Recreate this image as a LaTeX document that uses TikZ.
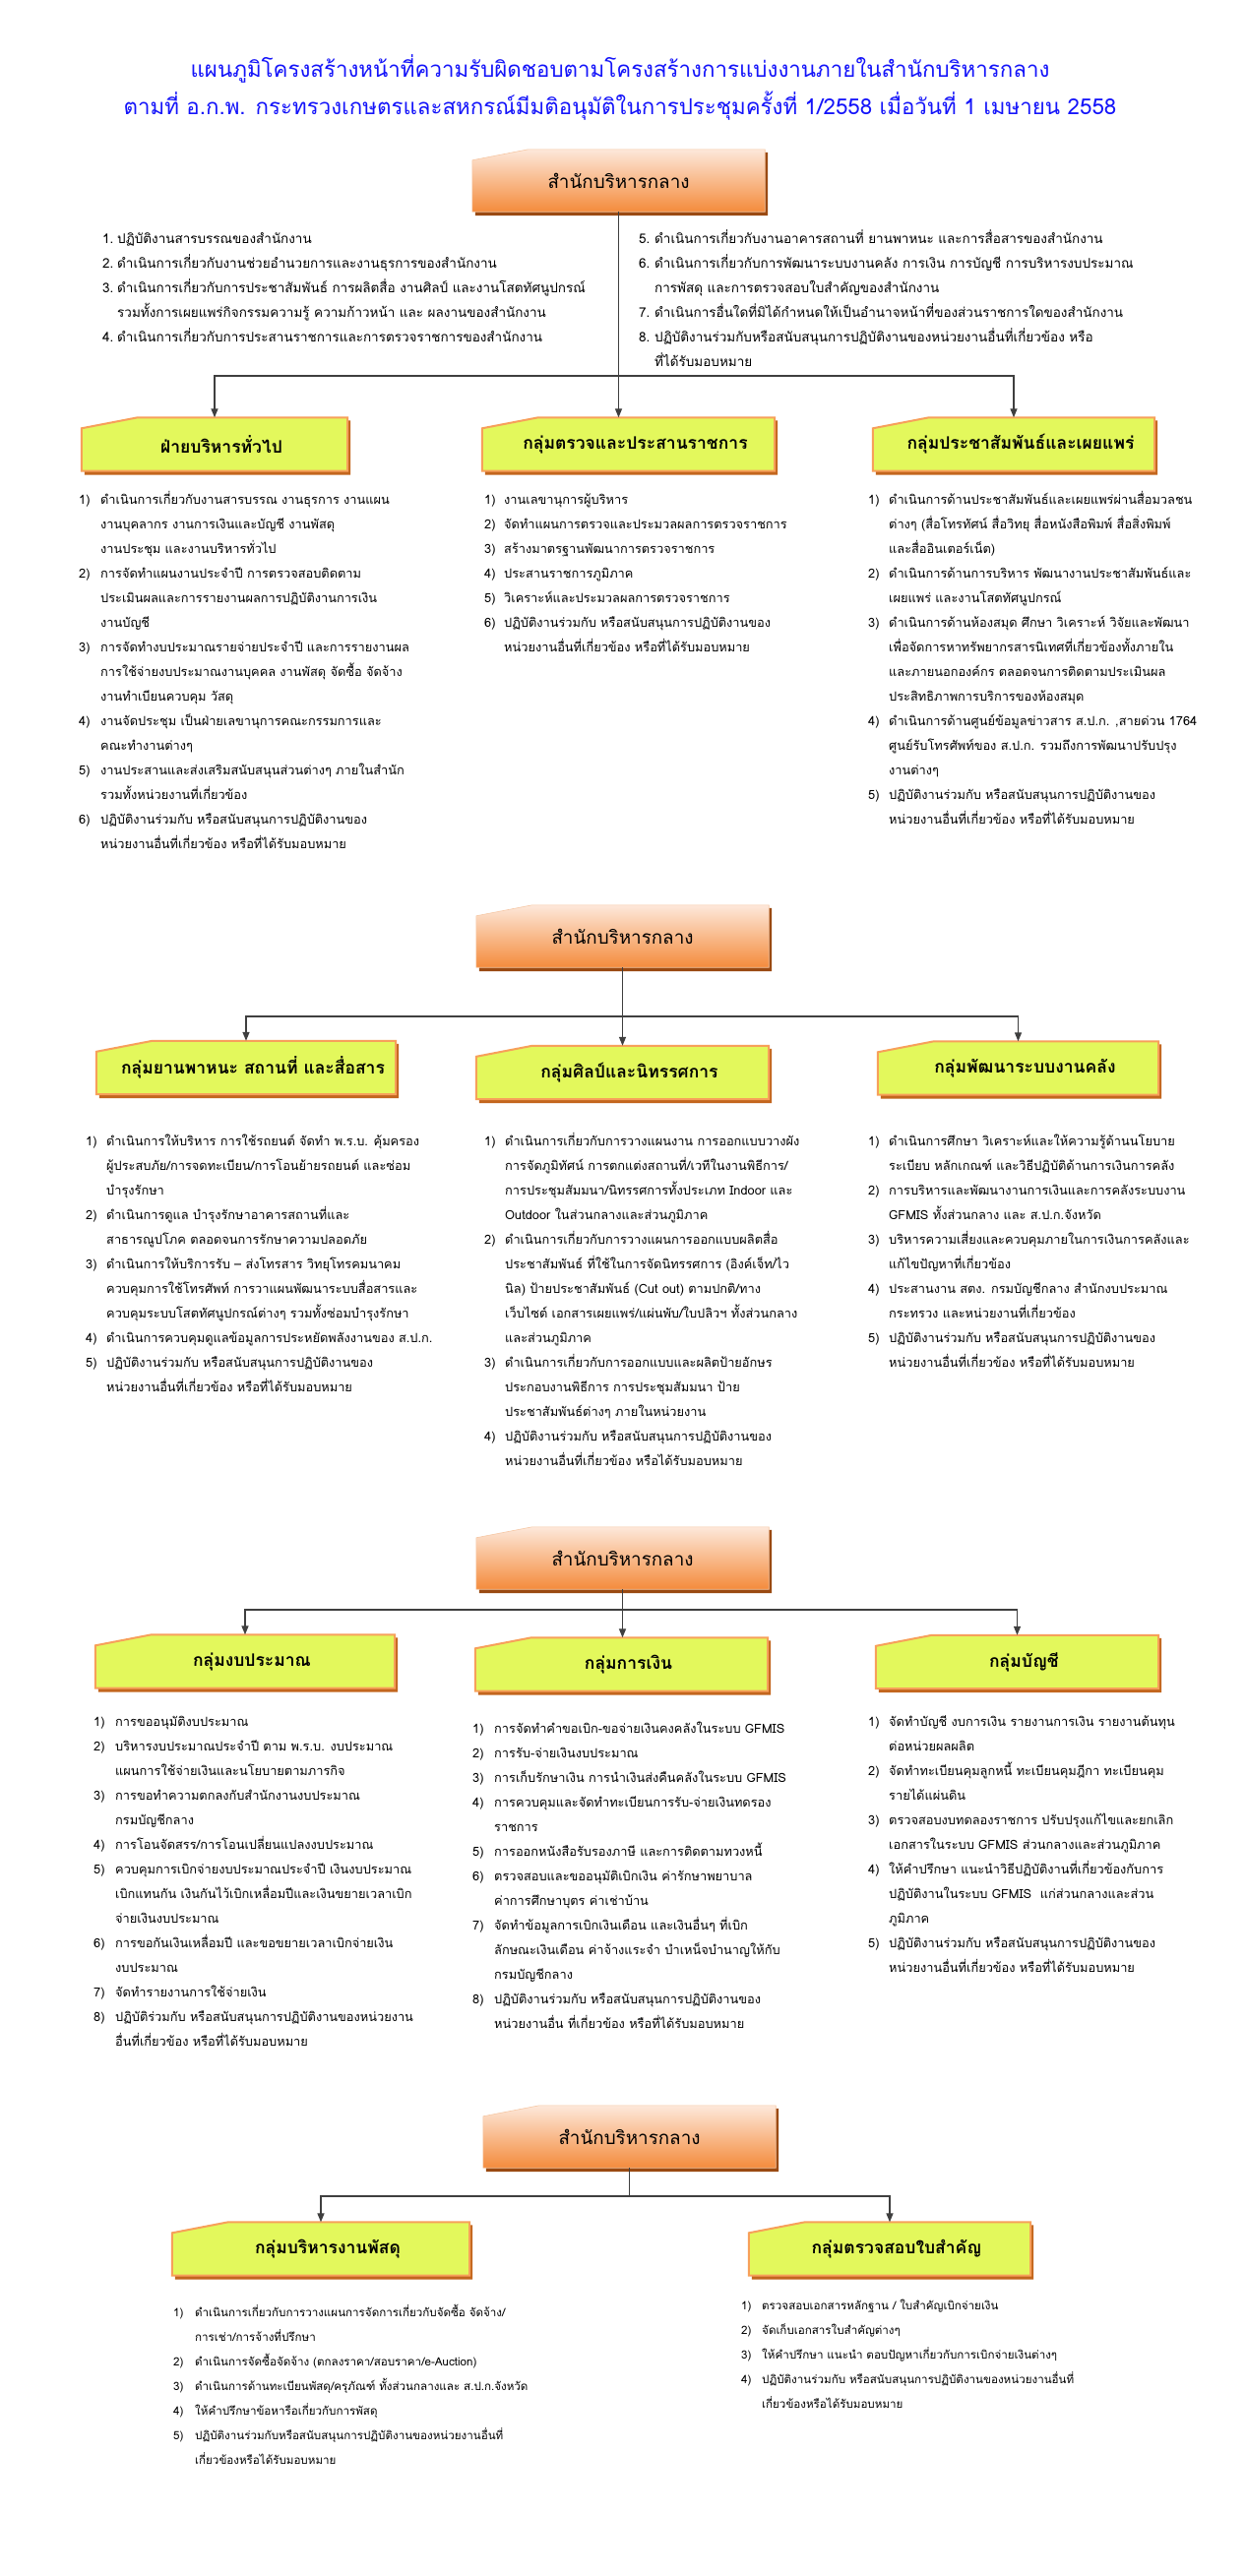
\documentclass[tikz,border=0pt]{standalone}
\usepackage{fontspec}
\usepackage{tikz}
\usetikzlibrary{positioning,arrows.meta,calc,backgrounds}
\newfontfamily\thaifont[Script=Thai]{Loma}
\definecolor{titleblue}{HTML}{1414FA}
\definecolor{wire}{HTML}{3F3F3F}
\definecolor{headtop}{HTML}{FDE8DA}
\definecolor{headbot}{HTML}{F48B3C}
\definecolor{headedge}{HTML}{F6C7A4}
\definecolor{headshade}{HTML}{9A4A12}
\definecolor{limefill}{HTML}{E3F85C}
\definecolor{grpedge}{HTML}{F7A05A}
\definecolor{grpshade}{HTML}{C3661E}
% number column + text column, one row per printed line
\newcommand{\itemrows}[2]{\begin{tabular}{@{}p{#1}@{}l@{}}#2\end{tabular}}
% box with the cut top-left corner and a drop shadow, drawn behind node #1
\newcommand{\cutbox}[3]{%
  \begin{scope}[on background layer]
    \fill[#3] ([shift={(3pt,-4pt)}]#1.south west) -- ([shift={(3pt,-15pt)}]#1.north west)
      -- ([shift={(60pt,-3pt)}]#1.north west) -- ([shift={(3pt,-3pt)}]#1.north east)
      -- ([shift={(3pt,-4pt)}]#1.south east) -- cycle;
    \path[#2] (#1.south west) -- ([yshift=-11pt]#1.north west) -- ([xshift=57pt]#1.north west)
      -- (#1.north east) -- (#1.south east) -- cycle;
  \end{scope}}

\begin{document}
\begin{tikzpicture}[x=1pt, y=-1pt,
  font=\thaifont,
  title/.style={align=center, text=titleblue, inner sep=0pt, font=\thaifont\fontsize{22.3}{38}\selectfont},
  headbox/.style={minimum width=297pt, minimum height=63pt, inner sep=0pt,
                  font=\thaifont\fontsize{18.8}{22}\selectfont},
  grp/.style={minimum height=54pt, inner sep=0pt, font=\thaifont\bfseries\fontsize{17.5}{22}\selectfont,
              execute at begin node={\hspace*{14pt}}},
  lst/.style={anchor=north west, inner sep=0pt, font=\thaifont\fontsize{12.8}{25}\selectfont},
  dutylst/.style={lst, font=\thaifont\fontsize{13.5}{25}\selectfont},
  lstsmall/.style={lst, font=\thaifont\fontsize{11.6}{25}\selectfont},
  flow/.style={-{Triangle[length=9pt,width=7pt]}, line width=1.3pt, draw=wire},
  wireline/.style={line width=1.3pt, draw=wire},
  headface/.style={top color=headtop, bottom color=headbot, draw=headedge, line width=0.6pt},
  grpface/.style={fill=limefill, draw=grpedge, line width=2pt}]
\begin{scope}[on background layer]
  \fill[white] (0,0) rectangle (1266,2618);
\end{scope}
\useasboundingbox (0,0) rectangle (1266,2618);

\node[title] (title) at (630,89) {แผนภูมิโครงสร้างหน้าที่ความรับผิดชอบตามโครงสร้างการแบ่งงานภายในสำนักบริหารกลาง\\
  ตามที่ อ.ก.พ. กระทรวงเกษตรและสหกรณ์มีมติอนุมัติในการประชุมครั้งที่ 1/2558 เมื่อวันที่ 1 เมษายน 2558};

% ---- part 1
\node[headbox] (head1) at (628.5,183.5) {สำนักบริหารกลาง};
\cutbox{head1}{headface}{headshade}
\node[dutylst] (duty1) at (104,230) {\itemrows{15pt}{%
  1. & ปฏิบัติงานสารบรรณของสำนักงาน\\
  2. & ดำเนินการเกี่ยวกับงานช่วยอำนวยการและงานธุรการของสำนักงาน\\
  3. & ดำเนินการเกี่ยวกับการประชาสัมพันธ์ การผลิตสื่อ งานศิลป์ และงานโสตทัศนูปกรณ์\\
     & รวมทั้งการเผยแพร่กิจกรรมความรู้ ความก้าวหน้า และ ผลงานของสำนักงาน\\
  4. & ดำเนินการเกี่ยวกับการประสานราชการและการตรวจราชการของสำนักงาน}};
\node[dutylst] (duty2) at (649,230) {\itemrows{16pt}{%
  5. & ดำเนินการเกี่ยวกับงานอาคารสถานที่ ยานพาหนะ และการสื่อสารของสำนักงาน\\
  6. & ดำเนินการเกี่ยวกับการพัฒนาระบบงานคลัง การเงิน การบัญชี การบริหารงบประมาณ\\
     & การพัสดุ และการตรวจสอบใบสำคัญของสำนักงาน\\
  7. & ดำเนินการอื่นใดที่มิได้กำหนดให้เป็นอำนาจหน้าที่ของส่วนราชการใดของสำนักงาน\\
  8. & ปฏิบัติงานร่วมกับหรือสนับสนุนการปฏิบัติงานของหน่วยงานอื่นที่เกี่ยวข้อง หรือ\\
     & ที่ได้รับมอบหมาย}};

\node[grp, minimum width=270pt] (g1a) at (218,451.5) {ฝ่ายบริหารทั่วไป};
\node[grp, minimum width=297pt] (g1b) at (638.5,451.5) {กลุ่มตรวจและประสานราชการ};
\node[grp, minimum width=286pt] (g1c) at (1030,451.5) {กลุ่มประชาสัมพันธ์และเผยแพร่};
\cutbox{g1a}{grpface}{grpshade}
\cutbox{g1b}{grpface}{grpshade}
\cutbox{g1c}{grpface}{grpshade}
\coordinate (bus1) at (head1.south |- 0,382);
\draw[flow] (head1.south) -- (head1.south |- g1b.north);
\draw[flow] (bus1) -| (g1a.north);
\draw[flow] (bus1) -| (g1c.north);

\node[lst] (l1a) at (80,495) {\itemrows{22pt}{%
  1) & ดำเนินการเกี่ยวกับงานสารบรรณ งานธุรการ งานแผน\\
     & งานบุคลากร งานการเงินและบัญชี งานพัสดุ\\
     & งานประชุม และงานบริหารทั่วไป\\
  2) & การจัดทำแผนงานประจำปี การตรวจสอบติดตาม\\
     & ประเมินผลและการรายงานผลการปฏิบัติงานการเงิน\\
     & งานบัญชี\\
  3) & การจัดทำงบประมาณรายจ่ายประจำปี และการรายงานผล\\
     & การใช้จ่ายงบประมาณงานบุคคล งานพัสดุ จัดซื้อ จัดจ้าง\\
     & งานทำเบียนควบคุม วัสดุ\\
  4) & งานจัดประชุม เป็นฝ่ายเลขานุการคณะกรรมการและ\\
     & คณะทำงานต่างๆ\\
  5) & งานประสานและส่งเสริมสนับสนุนส่วนต่างๆ ภายในสำนัก\\
     & รวมทั้งหน่วยงานที่เกี่ยวข้อง\\
  6) & ปฏิบัติงานร่วมกับ หรือสนับสนุนการปฏิบัติงานของ\\
     & หน่วยงานอื่นที่เกี่ยวข้อง หรือที่ได้รับมอบหมาย}};
\node[lst] (l1b) at (492,495) {\itemrows{20pt}{%
  1) & งานเลขานุการผู้บริหาร\\
  2) & จัดทำแผนการตรวจและประมวลผลการตรวจราชการ\\
  3) & สร้างมาตรฐานพัฒนาการตรวจราชการ\\
  4) & ประสานราชการภูมิภาค\\
  5) & วิเคราะห์และประมวลผลการตรวจราชการ\\
  6) & ปฏิบัติงานร่วมกับ หรือสนับสนุนการปฏิบัติงานของ\\
     & หน่วยงานอื่นที่เกี่ยวข้อง หรือที่ได้รับมอบหมาย}};
\node[lst] (l1c) at (882,495) {\itemrows{21pt}{%
  1) & ดำเนินการด้านประชาสัมพันธ์และเผยแพร่ผ่านสื่อมวลชน\\
     & ต่างๆ (สื่อโทรทัศน์ สื่อวิทยุ สื่อหนังสือพิมพ์ สื่อสิ่งพิมพ์\\
     & และสื่ออินเตอร์เน็ต)\\
  2) & ดำเนินการด้านการบริหาร พัฒนางานประชาสัมพันธ์และ\\
     & เผยแพร่ และงานโสตทัศนูปกรณ์\\
  3) & ดำเนินการด้านห้องสมุด ศึกษา วิเคราะห์ วิจัยและพัฒนา\\
     & เพื่อจัดการหาทรัพยากรสารนิเทศที่เกี่ยวข้องทั้งภายใน\\
     & และภายนอกองค์กร ตลอดจนการติดตามประเมินผล\\
     & ประสิทธิภาพการบริการของห้องสมุด\\
  4) & ดำเนินการด้านศูนย์ข้อมูลข่าวสาร ส.ป.ก. ,สายด่วน 1764\\
     & ศูนย์รับโทรศัพท์ของ ส.ป.ก. รวมถึงการพัฒนาปรับปรุง\\
     & งานต่างๆ\\
  5) & ปฏิบัติงานร่วมกับ หรือสนับสนุนการปฏิบัติงานของ\\
     & หน่วยงานอื่นที่เกี่ยวข้อง หรือที่ได้รับมอบหมาย}};

% ---- part 2
\node[headbox] (head2) at (632.5,951.5) {สำนักบริหารกลาง};
\cutbox{head2}{headface}{headshade}
\node[grp, minimum width=304pt] (g2a) at (250,1085) {กลุ่มยานพาหนะ สถานที่ และสื่อสาร};
\node[grp, minimum width=297pt] (g2b) at (632.5,1090) {กลุ่มศิลป์และนิทรรศการ};
\node[grp, minimum width=285pt] (g2c) at (1034.5,1085.5) {กลุ่มพัฒนาระบบงานคลัง};
\cutbox{g2a}{grpface}{grpshade}
\cutbox{g2b}{grpface}{grpshade}
\cutbox{g2c}{grpface}{grpshade}
\coordinate (bus2) at (head2.south |- 0,1033);
\draw[flow] (head2.south) -- (head2.south |- g2b.north);
\draw[flow] (bus2) -| (g2a.north);
\draw[flow] (bus2) -| (g2c.north);

\node[lst] (l2a) at (87,1147) {\itemrows{21pt}{%
  1) & ดำเนินการให้บริหาร การใช้รถยนต์ จัดทำ พ.ร.บ. คุ้มครอง\\
     & ผู้ประสบภัย/การจดทะเบียน/การโอนย้ายรถยนต์ และซ่อม\\
     & บำรุงรักษา\\
  2) & ดำเนินการดูแล บำรุงรักษาอาคารสถานที่และ\\
     & สาธารณูปโภค ตลอดจนการรักษาความปลอดภัย\\
  3) & ดำเนินการให้บริการรับ – ส่งโทรสาร วิทยุโทรคมนาคม\\
     & ควบคุมการใช้โทรศัพท์ การวาแผนพัฒนาระบบสื่อสารและ\\
     & ควบคุมระบบโสตทัศนูปกรณ์ต่างๆ รวมทั้งซ่อมบำรุงรักษา\\
  4) & ดำเนินการควบคุมดูแลข้อมูลการประหยัดพลังงานของ ส.ป.ก.\\
  5) & ปฏิบัติงานร่วมกับ หรือสนับสนุนการปฏิบัติงานของ\\
     & หน่วยงานอื่นที่เกี่ยวข้อง หรือที่ได้รับมอบหมาย}};
\node[lst] (l2b) at (492,1147) {\itemrows{21pt}{%
  1) & ดำเนินการเกี่ยวกับการวางแผนงาน การออกแบบวางผัง\\
     & การจัดภูมิทัศน์ การตกแต่งสถานที่/เวทีในงานพิธีการ/\\
     & การประชุมสัมมนา/นิทรรศการทั้งประเภท Indoor และ\\
     & Outdoor ในส่วนกลางและส่วนภูมิภาค\\
  2) & ดำเนินการเกี่ยวกับการวางแผนการออกแบบผลิตสื่อ\\
     & ประชาสัมพันธ์ ที่ใช้ในการจัดนิทรรศการ (อิงค์เจ็ท/ไว\\
     & นิล) ป้ายประชาสัมพันธ์ (Cut out) ตามปกติ/ทาง\\
     & เว็บไซต์ เอกสารเผยแพร่/แผ่นพับ/ใบปลิวฯ ทั้งส่วนกลาง\\
     & และส่วนภูมิภาค\\
  3) & ดำเนินการเกี่ยวกับการออกแบบและผลิตป้ายอักษร\\
     & ประกอบงานพิธีการ การประชุมสัมมนา ป้าย\\
     & ประชาสัมพันธ์ต่างๆ ภายในหน่วยงาน\\
  4) & ปฏิบัติงานร่วมกับ หรือสนับสนุนการปฏิบัติงานของ\\
     & หน่วยงานอื่นที่เกี่ยวข้อง หรือได้รับมอบหมาย}};
\node[lst] (l2c) at (882,1147) {\itemrows{21pt}{%
  1) & ดำเนินการศึกษา วิเคราะห์และให้ความรู้ด้านนโยบาย\\
     & ระเบียบ หลักเกณฑ์ และวิธีปฏิบัติด้านการเงินการคลัง\\
  2) & การบริหารและพัฒนางานการเงินและการคลังระบบงาน\\
     & GFMIS ทั้งส่วนกลาง และ ส.ป.ก.จังหวัด\\
  3) & บริหารความเสี่ยงและควบคุมภายในการเงินการคลังและ\\
     & แก้ไขปัญหาที่เกี่ยวข้อง\\
  4) & ประสานงาน สตง. กรมบัญชีกลาง สำนักงบประมาณ\\
     & กระทรวง และหน่วยงานที่เกี่ยวข้อง\\
  5) & ปฏิบัติงานร่วมกับ หรือสนับสนุนการปฏิบัติงานของ\\
     & หน่วยงานอื่นที่เกี่ยวข้อง หรือที่ได้รับมอบหมาย}};

% ---- part 3
\node[headbox] (head3) at (632.5,1583.5) {สำนักบริหารกลาง};
\cutbox{head3}{headface}{headshade}
\node[grp, minimum width=304pt] (g3a) at (249,1688.5) {กลุ่มงบประมาณ};
\node[grp, minimum width=297pt] (g3b) at (631.5,1691.5) {กลุ่มการเงิน};
\node[grp, minimum width=287pt] (g3c) at (1033.5,1689) {กลุ่มบัญชี};
\cutbox{g3a}{grpface}{grpshade}
\cutbox{g3b}{grpface}{grpshade}
\cutbox{g3c}{grpface}{grpshade}
\coordinate (bus3) at (head3.south |- 0,1636);
\draw[flow] (head3.south) -- (head3.south |- g3b.north);
\draw[flow] (bus3) -| (g3a.north);
\draw[flow] (bus3) -| (g3c.north);

\node[lst] (l3a) at (95,1737) {\itemrows{22pt}{%
  1) & การขออนุมัติงบประมาณ\\
  2) & บริหารงบประมาณประจำปี ตาม พ.ร.บ. งบประมาณ\\
     & แผนการใช้จ่ายเงินและนโยบายตามภารกิจ\\
  3) & การขอทำความตกลงกับสำนักงานงบประมาณ\\
     & กรมบัญชีกลาง\\
  4) & การโอนจัดสรร/การโอนเปลี่ยนแปลงงบประมาณ\\
  5) & ควบคุมการเบิกจ่ายงบประมาณประจำปี เงินงบประมาณ\\
     & เบิกแทนกัน เงินกันไว้เบิกเหลื่อมปีและเงินขยายเวลาเบิก\\
     & จ่ายเงินงบประมาณ\\
  6) & การขอกันเงินเหลื่อมปี และขอขยายเวลาเบิกจ่ายเงิน\\
     & งบประมาณ\\
  7) & จัดทำรายงานการใช้จ่ายเงิน\\
  8) & ปฏิบัติร่วมกับ หรือสนับสนุนการปฏิบัติงานของหน่วยงาน\\
     & อื่นที่เกี่ยวข้อง หรือที่ได้รับมอบหมาย}};
\node[lst] (l3b) at (480,1744) {\itemrows{22pt}{%
  1) & การจัดทำคำขอเบิก-ขอจ่ายเงินคงคลังในระบบ GFMIS\\
  2) & การรับ-จ่ายเงินงบประมาณ\\
  3) & การเก็บรักษาเงิน การนำเงินส่งคืนคลังในระบบ GFMIS\\
  4) & การควบคุมและจัดทำทะเบียนการรับ-จ่ายเงินทดรอง\\
     & ราชการ\\
  5) & การออกหนังสือรับรองภาษี และการติดตามทวงหนี้\\
  6) & ตรวจสอบและขออนุมัติเบิกเงิน ค่ารักษาพยาบาล\\
     & ค่าการศึกษาบุตร ค่าเช่าบ้าน\\
  7) & จัดทำข้อมูลการเบิกเงินเดือน และเงินอื่นๆ ที่เบิก\\
     & ลักษณะเงินเดือน ค่าจ้างแระจำ บำเหน็จบำนาญให้กับ\\
     & กรมบัญชีกลาง\\
  8) & ปฏิบัติงานร่วมกับ หรือสนับสนุนการปฏิบัติงานของ\\
     & หน่วยงานอื่น ที่เกี่ยวข้อง หรือที่ได้รับมอบหมาย}};
\node[lst] (l3c) at (882,1737) {\itemrows{21pt}{%
  1) & จัดทำบัญชี งบการเงิน รายงานการเงิน รายงานต้นทุน\\
     & ต่อหน่วยผลผลิต\\
  2) & จัดทำทะเบียนคุมลูกหนี้ ทะเบียนคุมฎีกา ทะเบียนคุม\\
     & รายได้แผ่นดิน\\
  3) & ตรวจสอบงบทดลองราชการ ปรับปรุงแก้ไขและยกเลิก\\
     & เอกสารในระบบ GFMIS ส่วนกลางและส่วนภูมิภาค\\
  4) & ให้คำปรึกษา แนะนำวิธีปฏิบัติงานที่เกี่ยวข้องกับการ\\
     & ปฏิบัติงานในระบบ GFMIS\ \ แก่ส่วนกลางและส่วน\\
     & ภูมิภาค\\
  5) & ปฏิบัติงานร่วมกับ หรือสนับสนุนการปฏิบัติงานของ\\
     & หน่วยงานอื่นที่เกี่ยวข้อง หรือที่ได้รับมอบหมาย}};

% ---- part 4
\node[headbox] (head4) at (639.5,2171.5) {สำนักบริหารกลาง};
\cutbox{head4}{headface}{headshade}
\node[grp, minimum width=302pt] (g4a) at (326,2285.5) {กลุ่มบริหารงานพัสดุ};
\node[grp, minimum width=286pt] (g4b) at (904,2285.5) {กลุ่มตรวจสอบใบสำคัญ};
\cutbox{g4a}{grpface}{grpshade}
\cutbox{g4b}{grpface}{grpshade}
\coordinate (bus4) at (head4.south |- 0,2232);
\draw[wireline] (head4.south) -- (bus4);
\draw[flow] (bus4) -| (g4a.north);
\draw[flow] (bus4) -| (g4b.north);

\node[lstsmall] (l4a) at (176,2337) {\itemrows{22pt}{%
  1) & ดำเนินการเกี่ยวกับการวางแผนการจัดการเกี่ยวกับจัดซื้อ จัดจ้าง/\\
     & การเช่า/การจ้างที่ปรึกษา\\
  2) & ดำเนินการจัดซื้อจัดจ้าง (ตกลงราคา/สอบราคา/e-Auction)\\
  3) & ดำเนินการด้านทะเบียนพัสดุ/ครุภัณฑ์ ทั้งส่วนกลางและ ส.ป.ก.จังหวัด\\
  4) & ให้คำปรึกษาข้อหารือเกี่ยวกับการพัสดุ\\
  5) & ปฏิบัติงานร่วมกับหรือสนับสนุนการปฏิบัติงานของหน่วยงานอื่นที่\\
     & เกี่ยวข้องหรือได้รับมอบหมาย}};
\node[lstsmall] (l4b) at (753,2330) {\itemrows{21pt}{%
  1) & ตรวจสอบเอกสารหลักฐาน / ใบสำคัญเบิกจ่ายเงิน\\
  2) & จัดเก็บเอกสารใบสำคัญต่างๆ\\
  3) & ให้คำปรึกษา แนะนำ ตอบปัญหาเกี่ยวกับการเบิกจ่ายเงินต่างๆ\\
  4) & ปฏิบัติงานร่วมกับ หรือสนับสนุนการปฏิบัติงานของหน่วยงานอื่นที่\\
     & เกี่ยวข้องหรือได้รับมอบหมาย}};
\end{tikzpicture}
\end{document}
